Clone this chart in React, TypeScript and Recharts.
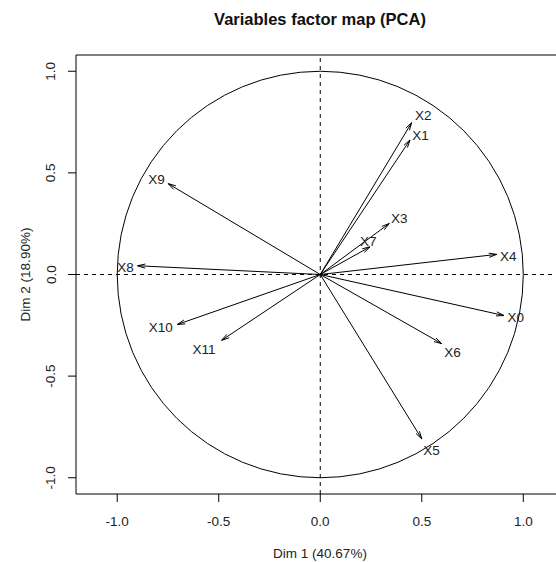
import React from 'react';
import { ComposedChart, XAxis, YAxis, ReferenceLine, ReferenceArea, Scatter } from 'recharts';

// Variable names
const variables = ['X0', 'X1', 'X2', 'X3', 'X4', 'X5', 'X6', 'X7', 'X8', 'X9', 'X10', 'X11'];
// Coordinates on Dim 1 / Dim 2 (arrow tips)
const dim1 = [0.905, 0.442, 0.45, 0.34, 0.869, 0.5, 0.598, 0.245, -0.9, -0.749, -0.704, -0.486];
const dim2 = [-0.202, 0.662, 0.747, 0.251, 0.099, -0.809, -0.34, 0.136, 0.043, 0.447, -0.246, -0.324];
// Where each label sits (data units)
const labelDim1 = [0.963, 0.494, 0.507, 0.389, 0.926, 0.548, 0.652, 0.236, -0.959, -0.806, -0.785, -0.573];
const labelDim2 = [-0.21, 0.686, 0.783, 0.279, 0.09, -0.862, -0.383, 0.164, 0.038, 0.471, -0.258, -0.369];

const xTicks = [-1, -0.5, 0, 0.5, 1];
const yTicks = [-1, -0.5, 0, 0.5, 1];
const xDomain = [-1.203, 1.203];
const yDomain = [-1.08, 1.08];

const FONT = '"Liberation Sans", Arial, sans-serif';
const TEXT = '#222';

const labelData = variables.map((name, i) => ({ name, x: labelDim1[i], y: labelDim2[i] }));

const ArrowShape = (props: any) => {
  const { x1, y1, x2, y2 } = props;
  const ang = Math.atan2(y2 - y1, x2 - x1);
  const len = 8;
  const a = Math.PI / 12;
  const ax1 = x2 - len * Math.cos(ang - a);
  const ay1 = y2 - len * Math.sin(ang - a);
  const ax2 = x2 - len * Math.cos(ang + a);
  const ay2 = y2 - len * Math.sin(ang + a);
  return (
    <g>
      <line x1={x1} y1={y1} x2={x2} y2={y2} stroke="#000" strokeWidth={1} />
      <polyline points={`${ax1},${ay1} ${x2},${y2} ${ax2},${ay2}`} fill="none" stroke="#000" strokeWidth={1} />
    </g>
  );
};

const CircleShape = (props: any) => {
  const { x1, y1, x2, y2 } = props;
  return (
    <ellipse
      cx={(x1 + x2) / 2}
      cy={(y1 + y2) / 2}
      rx={Math.abs(x2 - x1) / 2}
      ry={Math.abs(y2 - y1) / 2}
      fill="none"
      stroke="#000"
      strokeWidth={1}
    />
  );
};

const LabelShape = (props: any) => {
  const { cx, cy, payload } = props;
  return (
    <text x={cx} y={cy} dy="0.36em" textAnchor="middle" fontFamily={FONT} fontSize={13.5} fill={TEXT}>
      {payload.name}
    </text>
  );
};

const XTick = (props: any) => {
  const { x, y, payload } = props;
  return (
    <text x={x} y={y + 23.5} textAnchor="middle" fontFamily={FONT} fontSize={13.5} fill={TEXT}>
      {payload.value.toFixed(1)}
    </text>
  );
};

const YTick = (props: any) => {
  const { x, y, payload } = props;
  const bx = x - 12.5;
  return (
    <text x={bx} y={y} transform={`rotate(-90 ${bx} ${y})`} textAnchor="middle" fontFamily={FONT} fontSize={13.5} fill={TEXT}>
      {payload.value.toFixed(1)}
    </text>
  );
};

export default function App() {
  return (
    <div style={{ position: 'absolute', left: 0, top: 0, width: 556, height: 562, overflow: 'hidden', background: '#fff' }}>
      <ComposedChart width={575} height={562} margin={{ top: 55, right: 10.5, bottom: 28, left: 36 }}>
        <XAxis
          type="number"
          dataKey="x"
          domain={xDomain}
          allowDataOverflow
          ticks={xTicks}
          axisLine={false}
          tickLine={{ stroke: '#000' }}
          tickSize={8}
          tickMargin={0}
          height={40}
          tick={<XTick />}
          interval={0}
        />
        <YAxis
          type="number"
          dataKey="y"
          domain={yDomain}
          allowDataOverflow
          ticks={yTicks}
          axisLine={false}
          tickLine={{ stroke: '#000' }}
          tickSize={8}
          tickMargin={0}
          width={40}
          tick={<YTick />}
          interval={0}
        />
        <ReferenceArea
          x1={xDomain[0]}
          x2={xDomain[1]}
          y1={yDomain[0]}
          y2={yDomain[1]}
          fill="none"
          fillOpacity={0}
          stroke="#000"
          strokeWidth={1}
          ifOverflow="visible"
        />
        <ReferenceLine x={0} stroke="#000" strokeDasharray="4 4" />
        <ReferenceLine y={0} stroke="#000" strokeDasharray="4 4" />
        <ReferenceLine segment={[{ x: -1, y: -1 }, { x: 1, y: 1 }]} shape={<CircleShape />} ifOverflow="visible" />
        {variables.map((v, i) => (
          <ReferenceLine
            key={v}
            segment={[{ x: 0, y: 0 }, { x: dim1[i], y: dim2[i] }]}
            shape={<ArrowShape />}
            ifOverflow="visible"
          />
        ))}
        <Scatter data={labelData} shape={<LabelShape />} isAnimationActive={false} />
      </ComposedChart>
      <svg width={556} height={562} style={{ position: 'absolute', left: 0, top: 0, pointerEvents: 'none' }}>
        <text x={320} y={25} textAnchor="middle" fontFamily={FONT} fontSize={16.5} fontWeight="bold" fill="#111">
          Variables factor map (PCA)
        </text>
        <text x={320} y={558} textAnchor="middle" fontFamily={FONT} fontSize={13.5} fill={TEXT}>
          Dim 1 (40.67%)
        </text>
        <text x={30} y={274.5} transform="rotate(-90 30 274.5)" textAnchor="middle" fontFamily={FONT} fontSize={13.5} fill={TEXT}>
          Dim 2 (18.90%)
        </text>
      </svg>
    </div>
  );
}
